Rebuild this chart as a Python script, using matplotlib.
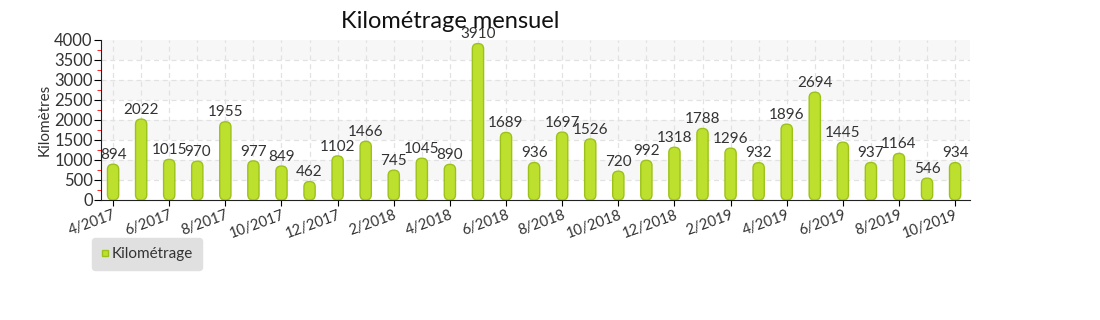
import matplotlib
matplotlib.use("Agg")
import matplotlib.pyplot as plt
from matplotlib.patches import FancyBboxPatch
from matplotlib.lines import Line2D

# Données
mois = ["4/2017", "5/2017", "6/2017", "7/2017", "8/2017", "9/2017", "10/2017", "11/2017",
        "12/2017", "1/2018", "2/2018", "3/2018", "4/2018", "5/2018", "6/2018", "7/2018",
        "8/2018", "9/2018", "10/2018", "11/2018", "12/2018", "1/2019", "2/2019", "3/2019",
        "4/2019", "5/2019", "6/2019", "7/2019", "8/2019", "9/2019", "10/2019"]
km = [894, 2022, 1015, 970, 1955, 977, 849, 462, 1102, 1466, 745, 1045, 890, 3910, 1689,
      936, 1697, 1526, 720, 992, 1318, 1788, 1296, 932, 1896, 2694, 1445, 937, 1164, 546, 934]

plt.rcParams['font.family'] = ['Lato', 'DejaVu Sans']
texte = "#333333"
vert = "#bde02e"
bord = "#9cc21a"

fig = plt.figure(figsize=(11, 3.2), dpi=100)
ax = fig.add_axes([101 / 1100, 1 - 200 / 320, 869 / 1100, 160 / 320])

ax.set_xlim(-0.43, len(km) - 0.47)
ax.set_ylim(0, 4000)

# Bandes alternées
for k in range(0, 8, 2):
    ax.axhspan(4000 - (k + 1) * 500, 4000 - k * 500, color="#f7f7f7", zorder=0, lw=0)

# Grille
for y in range(500, 4000, 500):
    ax.axhline(y, color="#e2e2e2", lw=0.9, ls=(0, (4, 3)), zorder=1)
for i in range(len(km)):
    ax.axvline(i, color="#e2e2e2", lw=0.9, ls=(0, (4, 3)), zorder=1)

# Barres arrondies
largeur = 0.4
px_x = 869 / (len(km) - 0.04)
px_y = 160 / 4000
aspect = px_x / px_y
for i, v in enumerate(km):
    p = FancyBboxPatch((i - largeur / 2, 0), largeur, v,
                       boxstyle="round,pad=0,rounding_size=0.19",
                       mutation_aspect=aspect,
                       facecolor=vert, edgecolor=bord, lw=1, zorder=3)
    ax.add_patch(p)
    ax.text(i, v + 60, str(v), ha="center", va="bottom", fontsize=11,
            color=texte, zorder=4)

# Axes
for s in ["top", "right"]:
    ax.spines[s].set_visible(False)
ax.spines["left"].set_color("#222222")
ax.spines["bottom"].set_color("#222222")

ax.set_yticks(range(0, 4001, 500))
ax.set_yticks(range(250, 4000, 500), minor=True)
ax.tick_params(axis="y", which="major", direction="out", length=5, labelsize=12,
               labelcolor=texte, pad=1)
ax.tick_params(axis="y", which="minor", direction="out", length=3, color="red")

ax.set_xticks(range(0, len(km), 2))
ax.set_xticklabels(mois[::2], rotation=20, ha="right", rotation_mode="anchor",
                   fontsize=10.5, color=texte)
ax.tick_params(axis="x", length=4, pad=2)

ax.set_ylabel("Kilomètres", fontsize=11, color=texte, labelpad=2)

fig.text(450 / 1100, 1 - 22 / 320, "Kilométrage mensuel", ha="center", va="center",
         fontsize=17, color="#111111")

# Légende
poignee = Line2D([], [], marker="s", ls="none", markersize=4,
                 markerfacecolor=vert, markeredgecolor=bord)
leg = fig.legend([poignee], ["Kilométrage"], loc="upper left",
                 bbox_to_anchor=(92 / 1100, 1 - 238 / 320), frameon=True,
                 fancybox=True, facecolor="#e0e0e0", edgecolor="#e0e0e0",
                 fontsize=11, handlelength=0.5, handletextpad=0.2,
                 borderpad=0.6, borderaxespad=0, framealpha=1)
for t in leg.get_texts():
    t.set_color(texte)

fig.savefig("out.png", dpi=100)
